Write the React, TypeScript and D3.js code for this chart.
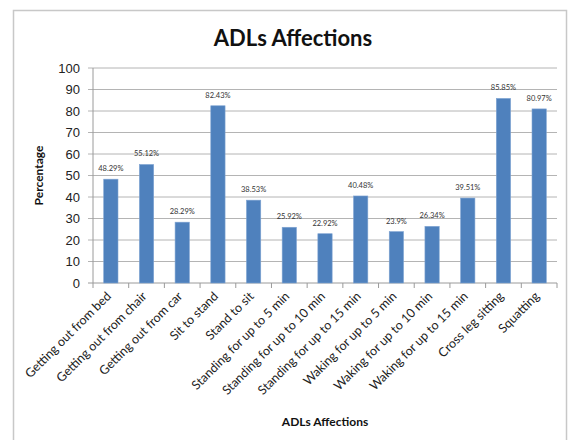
import React from "react";
import * as d3 from "d3";

const categories = [
  "Getting out from bed",
  "Getting out from chair",
  "Getting out from car",
  "Sit to stand",
  "Stand to sit",
  "Standing for up to 5 min",
  "Standing for up to 10 min",
  "Standing for up to 15 min",
  "Waking for up to 5 min",
  "Waking for up to 10 min",
  "Waking for up to 15 min",
  "Cross leg sitting",
  "Squatting",
];
const values = [48.29, 55.12, 28.29, 82.43, 38.53, 25.92, 22.92, 40.48, 23.9, 26.34, 39.51, 85.85, 80.97];
const valueLabels = ["48.29%", "55.12%", "28.29%", "82.43%", "38.53%", "25.92%", "22.92%", "40.48%", "23.9%", "26.34%", "39.51%", "85.85%", "80.97%"];
const yTicks = [0, 10, 20, 30, 40, 50, 60, 70, 80, 90, 100];

const W = 573;
const H = 440;
const left = 93;
const right = 557;
const top = 68;
const bottom = 283;

export default function App() {
  const x = d3.scaleBand<string>().domain(categories).range([left, right]).paddingInner(0.6).paddingOuter(0.3);
  const y = d3.scaleLinear().domain([0, 100]).range([bottom, top]);
  const band = (right - left) / categories.length;
  const font = "Lato, 'Open Sans', sans-serif";
  return (
    <svg width={W} height={H} style={{ position: "absolute", left: 0, top: 0 }}>
      <rect x={0} y={0} width={W} height={H} fill="#fff" />
      <rect x={13.5} y={10.5} width={553} height={440} fill="#fff" stroke="#c8c8c8" strokeWidth={1.5} />
      <text x={293} y={46} textAnchor="middle" fontFamily={font} fontWeight="bold" fontSize={22} fill="#111">
        ADLs Affections
      </text>
      {yTicks.map((t) => (
        <g key={t}>
          <line x1={left - 5} x2={right} y1={y(t)} y2={y(t)} stroke={t === 0 ? "#9a9a9a" : "#b4b4b4"} strokeWidth={1} />
          <text x={left - 13} y={y(t) + 4.5} textAnchor="end" fontFamily="'Liberation Sans', Arial, sans-serif" fontSize={13} fill="#222">
            {t}
          </text>
        </g>
      ))}
      <line x1={left} x2={left} y1={top} y2={bottom + 5} stroke="#9a9a9a" strokeWidth={1} />
      {categories.map((c, i) => (
        <line key={"tk" + i} x1={left + band * (i + 1)} x2={left + band * (i + 1)} y1={bottom} y2={bottom + 5} stroke="#9a9a9a" />
      ))}
      {categories.map((c, i) => (
        <g key={c}>
          <rect x={x(c)} y={y(values[i])} width={x.bandwidth()} height={bottom - y(values[i])} fill="#4f81bd" stroke="#7ea3d2" strokeWidth={0.6} />
          <text x={(x(c) as number) + x.bandwidth() / 2} y={y(values[i]) - 8} textAnchor="middle" fontFamily={font} fontSize={7.5} fill="#333">
            {valueLabels[i]}
          </text>
          <text
            transform={`translate(${(x(c) as number) + x.bandwidth() / 2 + 1},${bottom + 14}) rotate(-45)`}
            textAnchor="end"
            fontFamily={font}
            fontSize={12.5}
            fill="#222"
          >
            {c}
          </text>
        </g>
      ))}
      <text transform={`translate(43,${(top + bottom) / 2}) rotate(-90)`} textAnchor="middle" fontFamily={font} fontWeight="bold" fontSize={12} fill="#111">
        Percentage
      </text>
      <text x={(left + right) / 2} y={426} textAnchor="middle" fontFamily={font} fontWeight="bold" fontSize={12} fill="#111">
        ADLs Affections
      </text>
    </svg>
  );
}
